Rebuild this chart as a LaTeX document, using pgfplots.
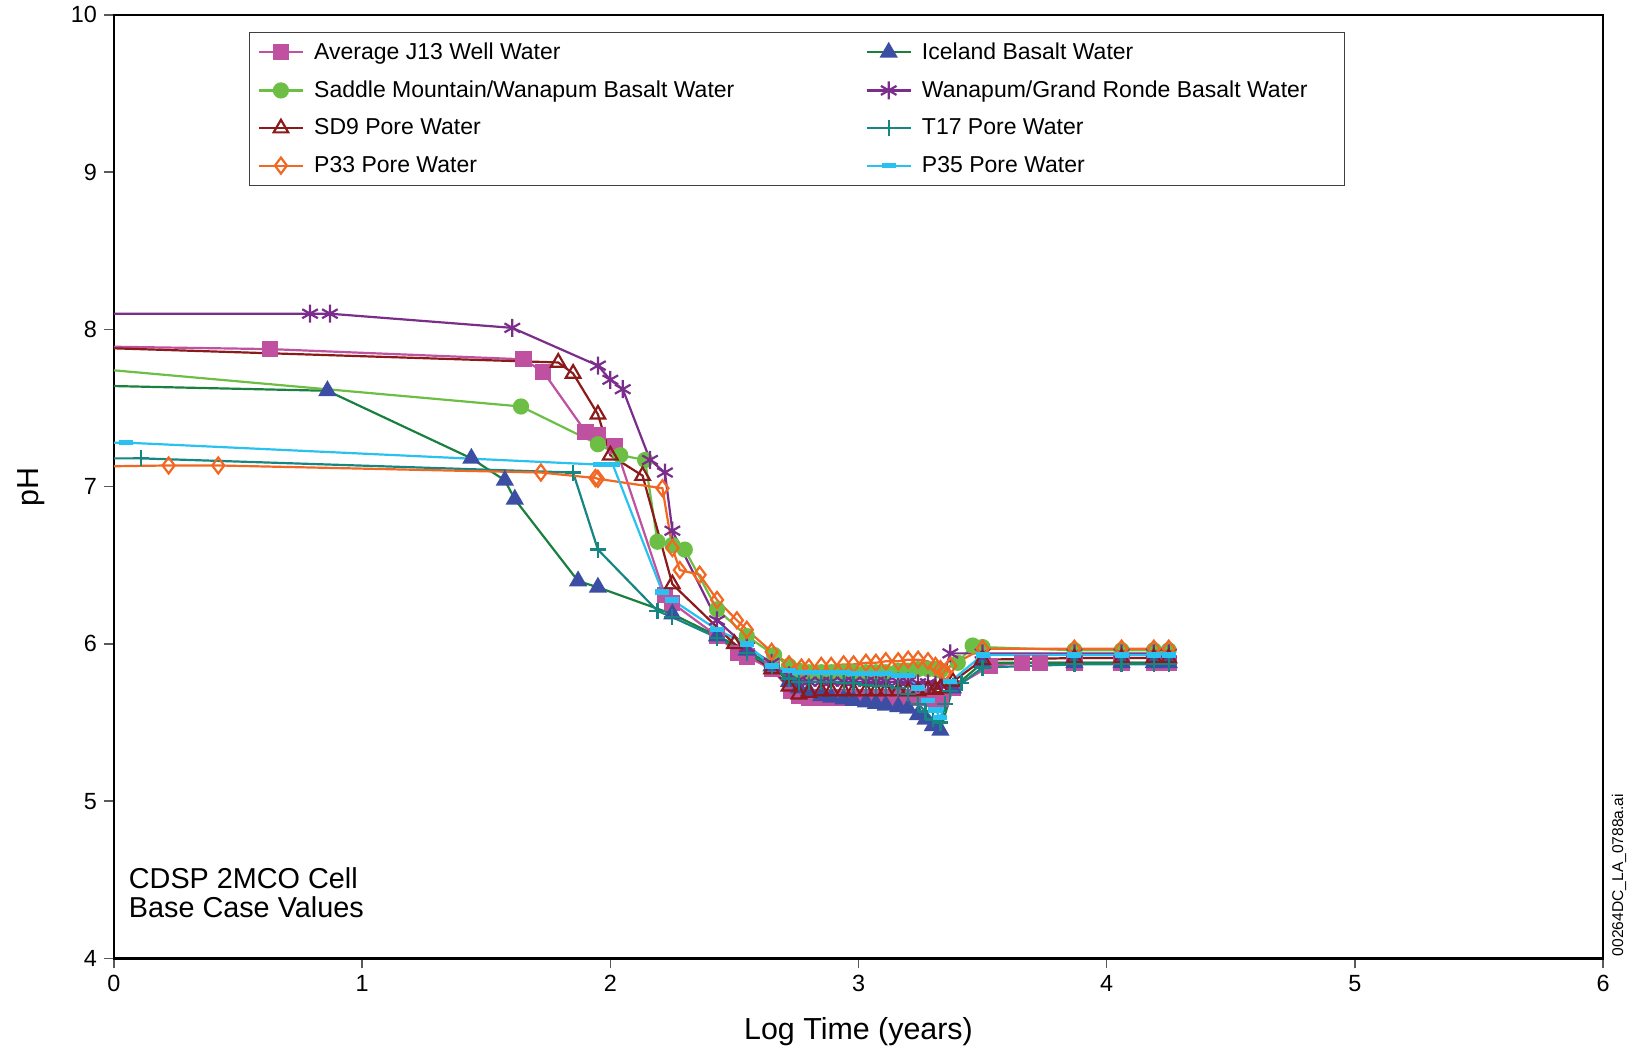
\documentclass[border=0pt]{standalone}
\usepackage{fontspec}
\setmainfont{Liberation Sans}
\usepackage{pgfplots}
\pgfplotsset{compat=1.18}

\definecolor{j13col}{RGB}{192,80,160}
\definecolor{icegreen}{RGB}{27,127,63}
\definecolor{iceblue}{RGB}{59,78,163}
\definecolor{smgreen}{RGB}{109,190,69}
\definecolor{wgpurple}{RGB}{123,45,139}
\definecolor{sd9red}{RGB}{139,26,26}
\definecolor{t17teal}{RGB}{22,134,130}
\definecolor{p33orange}{RGB}{242,103,34}
\definecolor{p35cyan}{RGB}{41,194,240}

\begin{document}
\begin{tikzpicture}
\begin{axis}[
  scale only axis,
  width=744.5pt, height=471.75pt,
  xmin=0, xmax=6, ymin=4, ymax=10,
  xtick={0,1,2,3,4,5,6}, ytick={4,5,6,7,8,9,10},
  tick pos=left, tick align=outside,
  major tick length=5pt,
  axis line style={line width=1.1pt},
  every tick/.style={line width=0.8pt, black!65},
  /pgf/number format/assume math mode=true,
  tick label style={font=\fontsize{11.7}{13}\selectfont},
  xlabel={Log Time (years)}, ylabel={pH},
  label style={font=\fontsize{15.2}{17}\selectfont},
  x label style={at={(axis description cs:0.5,-0.0774)}, anchor=center},
  y label style={at={(axis description cs:-0.0557,0.5)}, anchor=center},
  clip=false,
  every axis plot/.append style={line width=1.1pt, mark repeat=1, mark phase=2},
  legend image code/.code={
    \draw[mark repeat=2, mark phase=2] plot coordinates {(0cm,0cm) (0.39cm,0cm) (0.78cm,0cm)};},
  legend columns=2,
  legend cell align=left,
  legend style={at={(rel axis cs:0.0907,0.982)}, anchor=north west,
    draw=black!75, line width=0.6pt, font=\fontsize{11.5}{13.5}\selectfont,
    row sep=5.2pt, inner xsep=4pt, inner ysep=3pt,
    /tikz/every odd column/.append style={column sep=3pt},
    /tikz/every even column/.append style={column sep=63.5pt}},
]

% Average J13 well water
\addplot[color=j13col, mark=square*, mark size=3.5pt, mark options={solid}] coordinates {
(0,7.89) (0.63,7.875) (1.65,7.81) (1.73,7.73) (1.90,7.35) (1.95,7.33) (2.02,7.26)
(2.22,6.31) (2.25,6.26) (2.43,6.05) (2.515,5.94) (2.55,5.92) (2.65,5.84)
(2.73,5.70) (2.76,5.67) (2.80,5.66) (2.85,5.66) (2.89,5.66) (2.94,5.66) (2.98,5.66)
(3.03,5.66) (3.07,5.66) (3.11,5.66) (3.16,5.66) (3.20,5.66) (3.24,5.66) (3.28,5.66)
(3.31,5.65) (3.33,5.65) (3.38,5.72) (3.53,5.86) (3.66,5.88) (3.73,5.88) (3.87,5.88)
(4.06,5.88) (4.19,5.88) (4.25,5.88)};
\addlegendentry{Average J13 Well Water}

% Iceland basalt water
\addplot[color=icegreen, mark=triangle*, mark size=4.2pt, mark options={solid, fill=iceblue, draw=iceblue}] coordinates {
(0,7.64) (0.86,7.61) (1.44,7.18) (1.575,7.04) (1.615,6.92) (1.87,6.40) (1.95,6.36)
(2.25,6.19) (2.43,6.05) (2.55,5.96) (2.65,5.86) (2.72,5.76) (2.76,5.72) (2.80,5.70)
(2.85,5.67) (2.89,5.66) (2.94,5.65) (2.98,5.64) (3.03,5.63) (3.07,5.62) (3.11,5.61)
(3.16,5.60) (3.20,5.59) (3.24,5.55) (3.27,5.52) (3.30,5.48) (3.33,5.45) (3.38,5.72)
(3.50,5.88) (3.87,5.88) (4.06,5.88) (4.19,5.88) (4.25,5.88)};
\addlegendentry{Iceland Basalt Water}

% Saddle Mountain / Wanapum basalt water
\addplot[color=smgreen, mark=*, mark size=3.5pt, mark options={solid}] coordinates {
(0,7.74) (1.64,7.51) (1.95,7.27) (2.04,7.20) (2.14,7.17) (2.19,6.65) (2.25,6.63)
(2.30,6.60) (2.43,6.22) (2.55,6.05) (2.66,5.93) (2.72,5.86) (2.76,5.83) (2.80,5.82)
(2.85,5.82) (2.89,5.82) (2.94,5.82) (2.98,5.82) (3.03,5.82) (3.07,5.82) (3.11,5.82)
(3.16,5.83) (3.20,5.83) (3.24,5.84) (3.28,5.84) (3.31,5.84) (3.33,5.83) (3.40,5.88)
(3.46,5.99) (3.50,5.98) (3.87,5.96) (4.06,5.96) (4.19,5.96) (4.25,5.96)};
\addlegendentry{Saddle Mountain/Wanapum Basalt Water}

% Wanapum / Grand Ronde basalt water
\addplot[color=wgpurple, mark=asterisk, mark size=4.5pt, mark options={solid}] coordinates {
(0,8.10) (0.79,8.10) (0.87,8.10) (1.605,8.01) (1.95,7.77) (2.00,7.68) (2.05,7.62)
(2.16,7.17) (2.22,7.09) (2.25,6.72) (2.43,6.15) (2.55,5.98) (2.65,5.88) (2.72,5.80)
(2.76,5.77) (2.80,5.76) (2.85,5.76) (2.89,5.76) (2.94,5.76) (2.98,5.76) (3.03,5.76)
(3.07,5.76) (3.11,5.76) (3.16,5.76) (3.20,5.76) (3.24,5.75) (3.28,5.75) (3.31,5.74)
(3.33,5.74) (3.37,5.94) (3.50,5.94) (3.87,5.94) (4.06,5.94) (4.19,5.94) (4.25,5.94)};
\addlegendentry{Wanapum/Grand Ronde Basalt Water\rule{12.5pt}{0pt}}

% SD9 pore water
\addplot[color=sd9red, mark=triangle, mark size=4.2pt, mark options={solid, fill=white}] coordinates {
(0,7.88) (1.79,7.79) (1.85,7.72) (1.95,7.46) (2.00,7.20) (2.13,7.07) (2.25,6.38)
(2.50,6.00) (2.65,5.84) (2.72,5.73) (2.76,5.68) (2.80,5.69) (2.85,5.70) (2.89,5.70)
(2.94,5.70) (2.98,5.70) (3.03,5.70) (3.07,5.70) (3.11,5.70) (3.16,5.70) (3.20,5.70)
(3.24,5.70) (3.28,5.71) (3.31,5.71) (3.33,5.72) (3.38,5.76) (3.50,5.90) (3.87,5.91)
(4.06,5.91) (4.19,5.91) (4.25,5.91)};
\addlegendentry{SD9 Pore Water}

% T17 pore water
\addplot[color=t17teal, mark=+, mark size=4pt, mark options={solid}] coordinates {
(0,7.18) (0.11,7.18) (1.85,7.09) (1.95,6.60) (2.19,6.21) (2.25,6.17) (2.43,6.04)
(2.55,5.94) (2.65,5.86) (2.72,5.78) (2.76,5.76) (2.80,5.76) (2.85,5.76) (2.89,5.76)
(2.94,5.75) (2.98,5.75) (3.03,5.74) (3.07,5.73) (3.11,5.73) (3.16,5.72) (3.20,5.68)
(3.24,5.62) (3.27,5.57) (3.30,5.52) (3.33,5.50) (3.35,5.62) (3.37,5.70) (3.415,5.75)
(3.50,5.85) (3.87,5.87) (4.06,5.87) (4.19,5.87) (4.25,5.87)};
\addlegendentry{T17 Pore Water}

% P33 pore water
\addplot[color=p33orange, mark=diamond, mark size=4pt, mark options={solid, fill=white}] coordinates {
(0,7.13) (0.22,7.135) (0.42,7.135) (1.72,7.09) (1.94,7.055) (1.95,7.05) (2.21,6.99)
(2.25,6.61) (2.28,6.47) (2.36,6.44) (2.43,6.28) (2.51,6.15) (2.55,6.09) (2.65,5.95)
(2.72,5.87) (2.77,5.85) (2.80,5.85) (2.85,5.86) (2.89,5.86) (2.94,5.87) (2.98,5.87)
(3.03,5.88) (3.07,5.88) (3.11,5.89) (3.16,5.89) (3.20,5.90) (3.24,5.90) (3.28,5.89)
(3.31,5.86) (3.33,5.84) (3.35,5.82) (3.37,5.86) (3.50,5.97) (3.87,5.97) (4.06,5.97)
(4.19,5.97) (4.25,5.97)};
\addlegendentry{P33 Pore Water}

% P35 pore water
\addplot[color=p35cyan, mark=-, mark size=3.5pt, mark options={solid, line width=2.6pt}] coordinates {
(0,7.28) (0.05,7.28) (1.96,7.14) (2.01,7.14) (2.21,6.33) (2.25,6.28) (2.43,6.09)
(2.55,6.00) (2.65,5.86) (2.72,5.83) (2.76,5.82) (2.80,5.82) (2.85,5.82) (2.89,5.82)
(2.94,5.82) (2.98,5.81) (3.03,5.81) (3.07,5.81) (3.11,5.81) (3.16,5.80) (3.20,5.80)
(3.24,5.72) (3.28,5.64) (3.31,5.58) (3.33,5.53) (3.37,5.76) (3.50,5.93) (3.87,5.93)
(4.06,5.93) (4.19,5.93) (4.25,5.93)};
\addlegendentry{P35 Pore Water}

\node[anchor=north west, align=left, inner sep=0pt, font=\fontsize{14.4}{14.5}\selectfont]
  at (axis cs:0.0585,4.58) {CDSP 2MCO Cell\\Base Case Values};
\node[rotate=90, inner sep=0pt, font=\fontsize{7.8}{9}\selectfont]
  at (rel axis cs:1.0107,0.0883) {00264DC\_LA\_0788a.ai};
\end{axis}
\path (current axis.south west) ++(-57pt,-48pt) coordinate (bbsw);
\path (current axis.north east) ++(12pt,6.75pt) coordinate (bbne);
\path (bbsw) rectangle (bbne);
\end{tikzpicture}
\end{document}
